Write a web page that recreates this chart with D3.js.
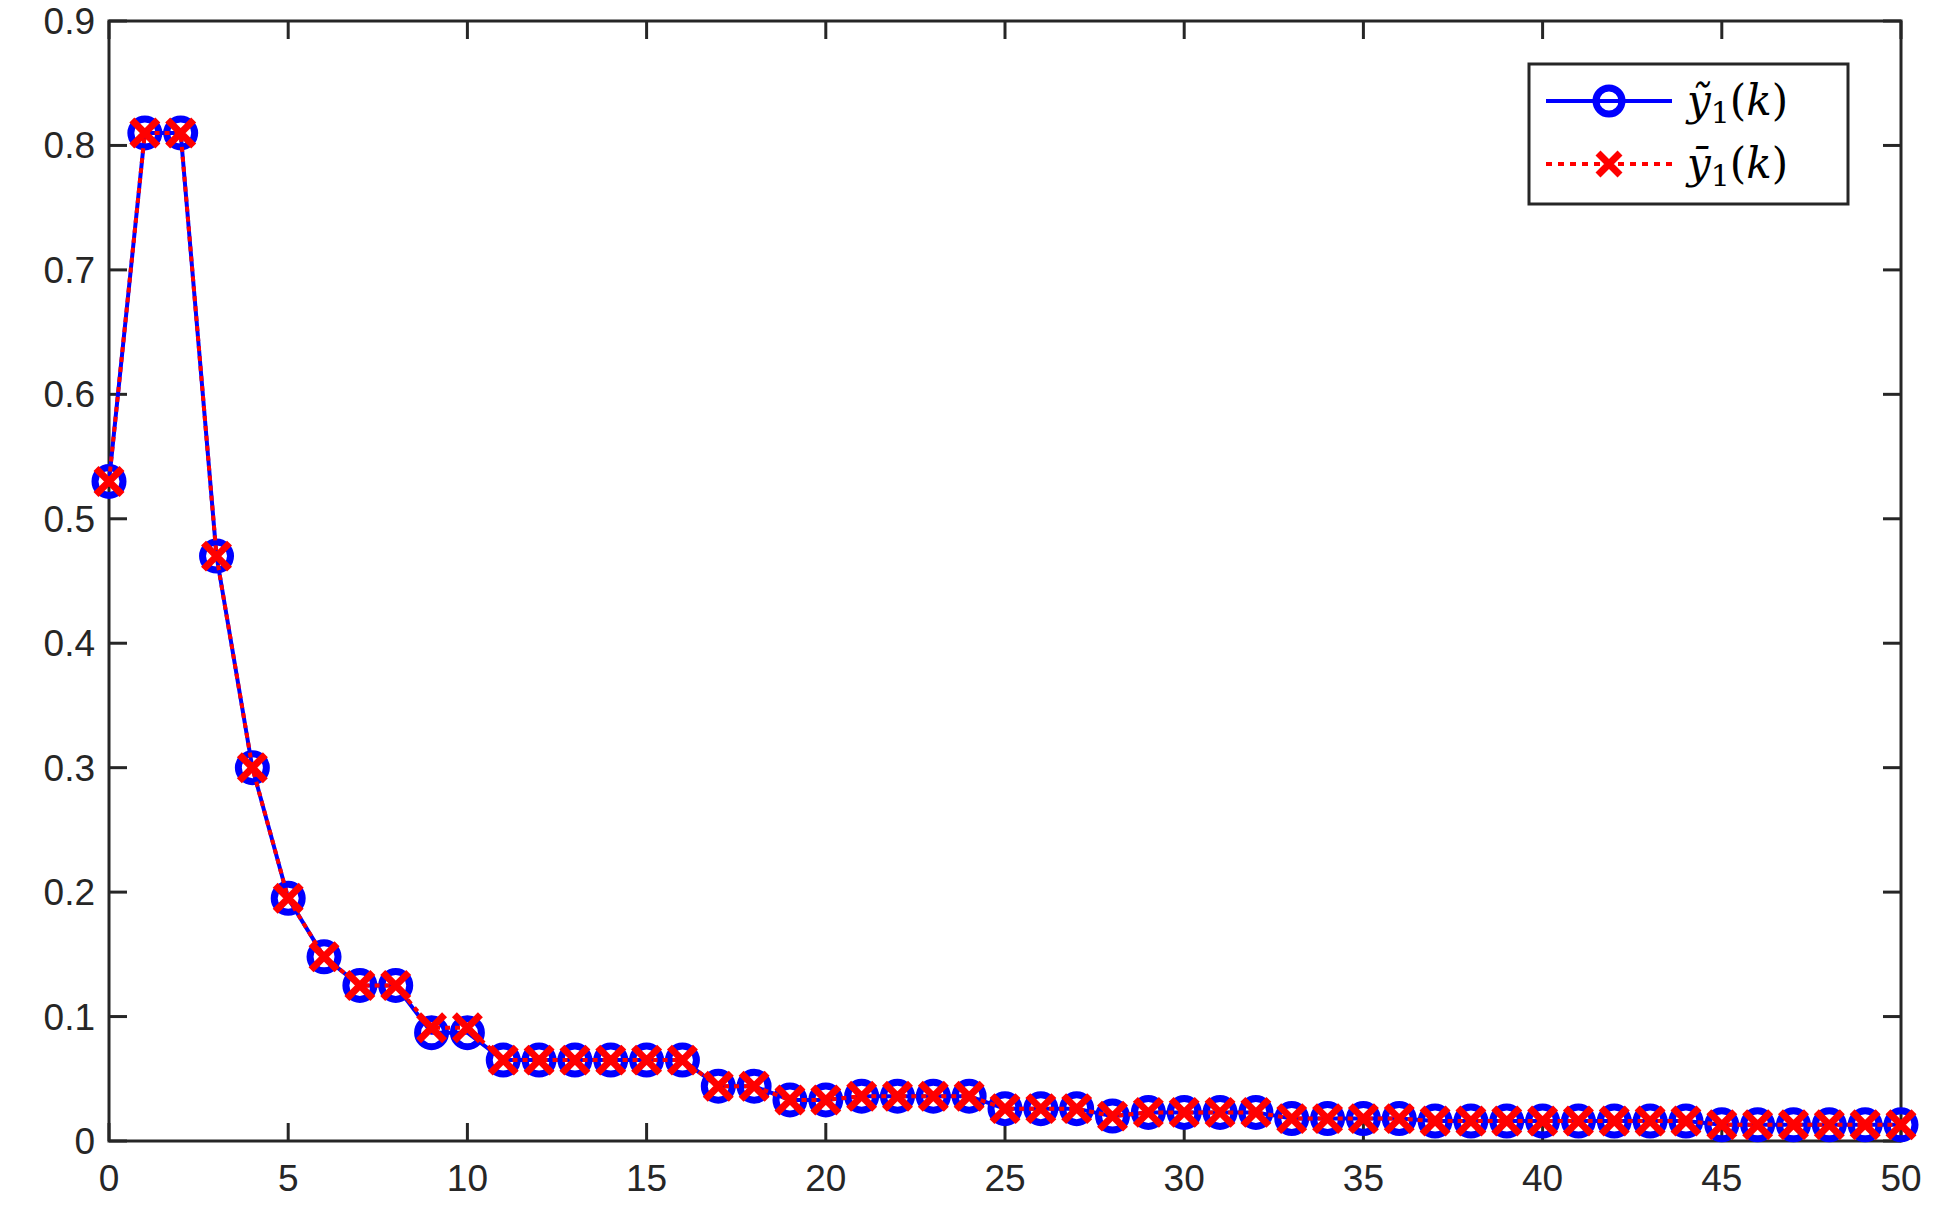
<!DOCTYPE html><html><head><meta charset="utf-8"><script src="https://cdn.jsdelivr.net/npm/d3@7"></script>
<style>body{margin:0;background:#fff}</style></head><body><svg id="c" width="1938" height="1218"></svg>
<script>
const kValues = d3.range(0, 51);
const yTilde = [0.53,0.81,0.81,0.47,0.30,0.195,0.148,0.125,0.125,0.087,0.087,0.065,0.065,0.065,0.065,0.065,0.065,0.044,0.044,0.033,0.033,0.036,0.036,0.036,0.036,0.026,0.026,0.026,0.020,0.023,0.023,0.023,0.023,0.018,0.018,0.018,0.018,0.016,0.016,0.016,0.016,0.016,0.016,0.016,0.016,0.013,0.013,0.013,0.013,0.013,0.013];
const yBar = [0.53,0.81,0.81,0.47,0.30,0.195,0.148,0.125,0.125,0.091,0.091,0.065,0.065,0.065,0.065,0.065,0.065,0.044,0.044,0.033,0.033,0.036,0.036,0.036,0.036,0.026,0.026,0.026,0.020,0.023,0.023,0.023,0.023,0.018,0.018,0.018,0.018,0.016,0.016,0.016,0.016,0.016,0.016,0.016,0.016,0.013,0.013,0.013,0.013,0.013,0.013];
const xTicks = d3.range(0, 51, 5);
const yTicks = d3.range(0, 0.91, 0.1);

const svg = d3.select("#c");
const L=109,R=1901,T=21,B=1141;
const x = d3.scaleLinear().domain([0,50]).range([L,R]);
const y = d3.scaleLinear().domain([0,0.9]).range([B,T]);
const col="#262626", fs=37, ff="'Liberation Sans', Arial, sans-serif";
const ax = svg.append("g").attr("font-family",ff).attr("font-size",fs).attr("fill",col);
xTicks.forEach(t=>{
  ax.append("line").attr("x1",x(t)).attr("x2",x(t)).attr("y1",B).attr("y2",B-18).attr("stroke",col).attr("stroke-width",3);
  ax.append("line").attr("x1",x(t)).attr("x2",x(t)).attr("y1",T).attr("y2",T+18).attr("stroke",col).attr("stroke-width",3);
  ax.append("text").attr("x",x(t)).attr("y",B+50).attr("text-anchor","middle").text(t);
});
yTicks.forEach(t=>{
  ax.append("line").attr("x1",L).attr("x2",L+18).attr("y1",y(t)).attr("y2",y(t)).attr("stroke",col).attr("stroke-width",3);
  ax.append("line").attr("x1",R).attr("x2",R-18).attr("y1",y(t)).attr("y2",y(t)).attr("stroke",col).attr("stroke-width",3);
  ax.append("text").attr("x",L-14).attr("y",y(t)+13).attr("text-anchor","end").text(d3.format(".1~f")(t));
});
svg.append("rect").attr("x",L).attr("y",T).attr("width",R-L).attr("height",B-T).attr("fill","none").attr("stroke",col).attr("stroke-width",3);

const line = d3.line().x((d,i)=>x(kValues[i])).y(d=>y(d));
svg.append("path").datum(yTilde).attr("d",line).attr("fill","none").attr("stroke","#0000ff").attr("stroke-width",4);
svg.append("g").selectAll("circle").data(yTilde).join("circle").attr("cx",(d,i)=>x(kValues[i])).attr("cy",d=>y(d)).attr("r",14).attr("fill","none").attr("stroke","#0000ff").attr("stroke-width",7);
svg.append("path").datum(yBar).attr("d",line).attr("fill","none").attr("stroke","#ff0000").attr("stroke-width",4).attr("stroke-dasharray","5,5");
const cross = (g,cx,cy,s)=>g.append("path").attr("d",`M${cx-s},${cy-s}L${cx+s},${cy+s}M${cx-s},${cy+s}L${cx+s},${cy-s}`).attr("stroke","#ff0000").attr("stroke-width",7).attr("fill","none");
const cg = svg.append("g");
yBar.forEach((d,i)=>cross(cg,x(kValues[i]),y(d),13));

// legend
const lx=1529, ly=64;
svg.append("rect").attr("x",lx).attr("y",ly).attr("width",319).attr("height",140).attr("fill","#fff").attr("stroke",col).attr("stroke-width",3);
const r1=ly+37, r2=ly+100;
svg.append("line").attr("x1",lx+17).attr("x2",lx+143).attr("y1",r1).attr("y2",r1).attr("stroke","#0000ff").attr("stroke-width",4);
svg.append("circle").attr("cx",lx+80).attr("cy",r1).attr("r",13).attr("fill","none").attr("stroke","#0000ff").attr("stroke-width",7);
svg.append("line").attr("x1",lx+17).attr("x2",lx+143).attr("y1",r2).attr("y2",r2).attr("stroke","#ff0000").attr("stroke-width",4).attr("stroke-dasharray","6,6");
cross(svg,lx+80,r2,11);
const labels=["ỹ","ȳ"];
[r1,r2].forEach((ry,i)=>{
  const t=svg.append("text").attr("x",lx+158).attr("y",ry+14).attr("font-family","'DejaVu Serif', serif").attr("font-size",42).attr("fill","#000");
  t.append("tspan").attr("font-style","italic").text(labels[i]);
  t.append("tspan").attr("font-size",30).attr("dy",8).text("1");
  t.append("tspan").attr("dy",-8).text("(");
  t.append("tspan").attr("font-style","italic").text("k");
  t.append("tspan").text(")");
});
</script></body></html>
